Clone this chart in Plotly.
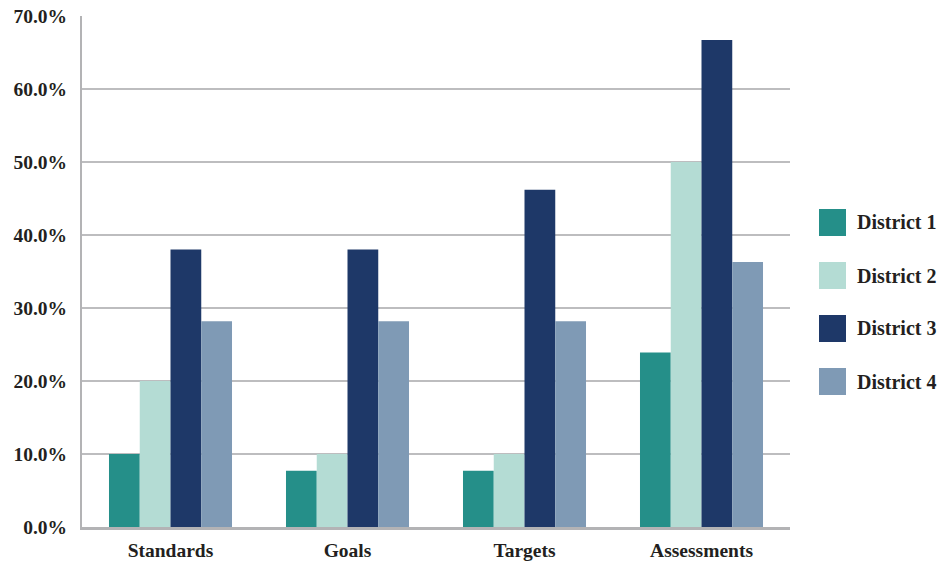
import plotly.graph_objects as go

categories = ["Standards", "Goals", "Targets", "Assessments"]
district_names = ["District 1", "District 2", "District 3", "District 4"]
district_1 = [10.0, 7.7, 7.7, 23.9]
district_2 = [20.0, 10.0, 10.0, 50.0]
district_3 = [38.0, 38.0, 46.2, 66.7]
district_4 = [28.2, 28.2, 28.2, 36.3]
y_ticks = [0, 10, 20, 30, 40, 50, 60, 70]
y_tick_labels = [f"{v:.1f}%" for v in y_ticks]

colors = ["#258F89", "#B4DCD4", "#1E3868", "#7F9AB5"]
series = [district_1, district_2, district_3, district_4]

FONT = "Liberation Serif"
TEXT = "#231F20"
tick_font = dict(family=FONT, size=19.5, color=TEXT, weight="bold")

fig = go.Figure()
for name, vals, col in zip(district_names, series, colors):
    fig.add_trace(go.Bar(x=categories, y=vals, name=name, marker_color=col,
                         marker_line_width=0, showlegend=False))

# Legend drawn as square swatches with labels on the right
for i, (name, col) in enumerate(zip(district_names, colors)):
    y0 = 209 + i * 53
    fig.add_shape(type="rect", xref="paper", yref="paper",
                  x0=(819 - 82) / 708, x1=(846 - 82) / 708,
                  y0=(527 - (y0 + 27)) / 511, y1=(527 - y0) / 511,
                  fillcolor=col, line_width=0)
    fig.add_annotation(xref="paper", yref="paper", x=(855 - 82) / 708,
                       y=(527 - (y0 + 13.5)) / 511, text=name, showarrow=False,
                       xanchor="left", yanchor="middle",
                       font=dict(family=FONT, size=20, color=TEXT, weight="bold"))

fig.update_layout(
    width=943, height=565,
    margin=dict(l=82, r=153, t=16, b=38),
    paper_bgcolor="white", plot_bgcolor="white",
    barmode="group", bargap=0.305, bargroupgap=0,
    font=dict(family=FONT, size=19, color=TEXT),
    xaxis=dict(showline=True, linecolor="#B3B3B5", linewidth=3,
               ticks="", tickfont=tick_font, automargin=False,
               ticklabelstandoff=4),
    yaxis=dict(range=[0, 70], tickvals=y_ticks, ticktext=y_tick_labels,
               showline=True, linecolor="#B3B3B5", linewidth=2,
               showgrid=True, gridcolor="#BDBDBF", gridwidth=1.5,
               zeroline=False, ticks="", automargin=False,
               tickfont=tick_font, ticklabelstandoff=9),
)

fig.write_html("out.html")
